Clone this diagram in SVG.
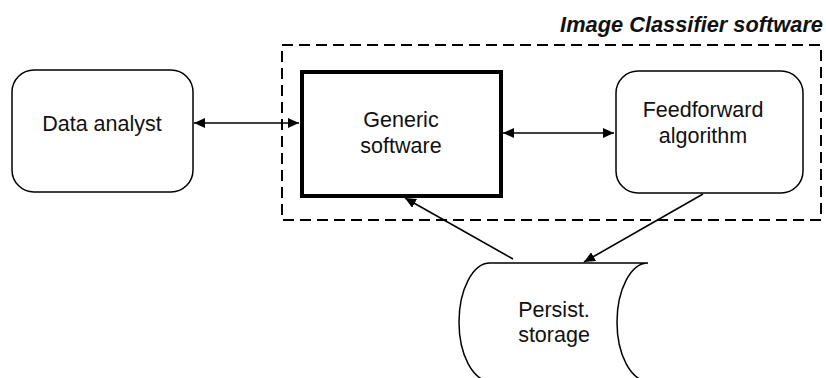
<svg xmlns="http://www.w3.org/2000/svg" width="826" height="378" viewBox="0 0 826 378">
<defs>
<style>
text{font-family:"Liberation Sans",Arial,sans-serif;font-size:21.5px;fill:#111;text-anchor:middle}
.title{font-weight:bold;font-style:italic;text-anchor:end;font-size:21.8px}
.rbox{fill:#fff;stroke:#000;stroke-width:1.5}
.conn{stroke:#000;stroke-width:1.6;fill:none}
</style>
<marker id="ah" viewBox="0 0 11 10" refX="11" refY="5" markerWidth="11" markerHeight="10" markerUnits="userSpaceOnUse" orient="auto-start-reverse">
<path d="M0,0 L11,5 L0,10 Z" fill="#000"/>
</marker>
</defs>
<g id="container">
<rect x="282" y="45" width="539" height="175" fill="none" stroke="#000" stroke-width="2" stroke-dasharray="11,6"/>
<text class="title" x="823" y="32">Image Classifier software</text>
</g>
<g id="persist">
<path d="M490,263 L648,263 A31,59 0 0 0 648,381 L490,381 A31,59 0 0 1 490,263 Z" fill="#fff" stroke="#000" stroke-width="1.5"/>
<text x="554" y="317">Persist.</text>
<text x="554" y="342">storage</text>
</g>
<g id="data-analyst">
<rect class="rbox" x="12" y="70" width="181" height="122" rx="22"/>
<text x="102" y="131">Data analyst</text>
</g>
<g id="generic">
<rect x="302" y="72" width="199" height="124" fill="#fff" stroke="#000" stroke-width="4"/>
<text x="401" y="127">Generic</text>
<text x="401" y="153">software</text>
</g>
<g id="feedforward">
<rect class="rbox" x="616" y="71" width="187" height="122" rx="22"/>
<text x="703" y="117">Feedforward</text>
<text x="703" y="143">algorithm</text>
</g>
<g id="connectors">
<line class="conn" x1="194" y1="123" x2="299" y2="123" marker-start="url(#ah)" marker-end="url(#ah)"/>
<line class="conn" x1="503" y1="133" x2="614" y2="133" marker-start="url(#ah)" marker-end="url(#ah)"/>
<line class="conn" x1="513" y1="259" x2="405" y2="198" marker-end="url(#ah)"/>
<line class="conn" x1="703" y1="194" x2="584" y2="262" marker-end="url(#ah)"/>
</g>
</svg>
